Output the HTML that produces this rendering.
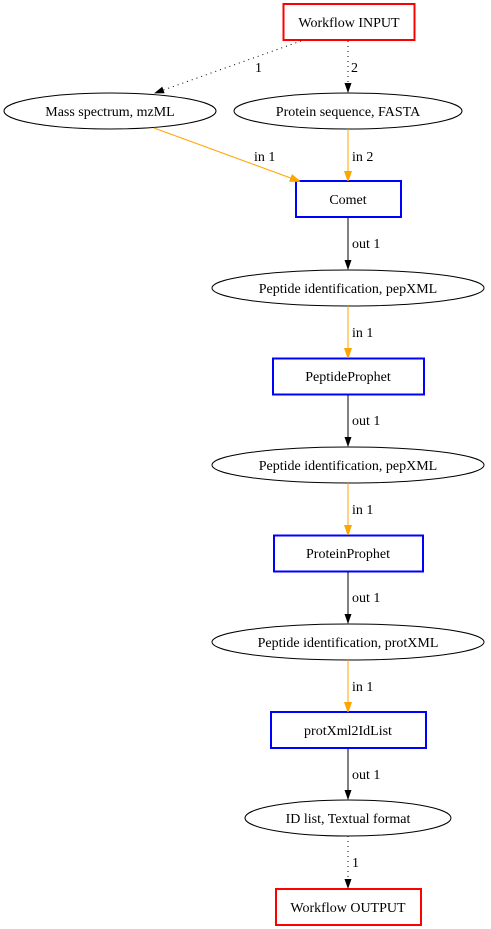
<!DOCTYPE html>
<html><head><style>body{margin:0;background:#fff}svg{display:block}text{font-family:"Liberation Serif",serif;font-size:14px;fill:#000}</style></head>
<body>
<svg width="491" height="929" viewBox="0 0 491 929" xmlns="http://www.w3.org/2000/svg">
<defs>
<marker id="ab" markerWidth="10" markerHeight="10" refX="9" refY="5" orient="auto" markerUnits="userSpaceOnUse"><path d="M0,1.5 L10,5 L0,8.5z" fill="#000"/></marker>
<marker id="ao" markerWidth="10" markerHeight="10" refX="9" refY="5" orient="auto" markerUnits="userSpaceOnUse"><path d="M0,1.5 L10,5 L0,8.5z" fill="orange" stroke="orange"/></marker>
</defs>
<g fill="none">
<rect x="283.5" y="4" width="131" height="36" stroke="red" stroke-width="2"/>
<ellipse cx="110" cy="111" rx="106" ry="18" stroke="#000"/>
<ellipse cx="348" cy="111" rx="114" ry="18" stroke="#000"/>
<rect x="296" y="181" width="105" height="36" stroke="blue" stroke-width="2"/>
<ellipse cx="348" cy="288" rx="136" ry="18" stroke="#000"/>
<rect x="273" y="358.5" width="151" height="36" stroke="blue" stroke-width="2"/>
<ellipse cx="348" cy="465" rx="136" ry="18" stroke="#000"/>
<rect x="274" y="535.5" width="149" height="36" stroke="blue" stroke-width="2"/>
<ellipse cx="348" cy="642" rx="136" ry="18" stroke="#000"/>
<rect x="271" y="712" width="155" height="36" stroke="blue" stroke-width="2"/>
<ellipse cx="348" cy="818" rx="103" ry="18" stroke="#000"/>
<rect x="276" y="889" width="145" height="36" stroke="red" stroke-width="2"/>

<path d="M301,41 L155,93" stroke="#000" stroke-dasharray="1,4" marker-end="url(#ab)"/>
<path d="M348,41 L348,92" stroke="#000" stroke-dasharray="1,4" marker-end="url(#ab)"/>
<path d="M154,128 L299,181" stroke="orange" marker-end="url(#ao)"/>
<path d="M348,129 L348,180" stroke="orange" marker-end="url(#ao)"/>
<path d="M348,218 L348,269" stroke="#000" marker-end="url(#ab)"/>
<path d="M348,306 L348,357" stroke="orange" marker-end="url(#ao)"/>
<path d="M348,395 L348,446" stroke="#000" marker-end="url(#ab)"/>
<path d="M348,483 L348,534" stroke="orange" marker-end="url(#ao)"/>
<path d="M348,572 L348,623" stroke="#000" marker-end="url(#ab)"/>
<path d="M348,660 L348,711" stroke="orange" marker-end="url(#ao)"/>
<path d="M348,749 L348,799" stroke="#000" marker-end="url(#ab)"/>
<path d="M348,836 L348,888" stroke="#000" stroke-dasharray="1,4" marker-end="url(#ab)"/>
</g>
<g text-anchor="middle">
<text x="349" y="27">Workflow INPUT</text>
<text x="110" y="116">Mass spectrum, mzML</text>
<text x="348" y="116">Protein sequence, FASTA</text>
<text x="348" y="204">Comet</text>
<text x="348" y="293">Peptide identification, pepXML</text>
<text x="348" y="381">PeptideProphet</text>
<text x="348" y="470">Peptide identification, pepXML</text>
<text x="348" y="558">ProteinProphet</text>
<text x="348" y="647">Peptide identification, protXML</text>
<text x="348" y="735">protXml2IdList</text>
<text x="348" y="823">ID list, Textual format</text>
<text x="348" y="912">Workflow OUTPUT</text>
</g>
<g>
<text x="255" y="72">1</text>
<text x="351" y="72">2</text>
<text x="254" y="161">in 1</text>
<text x="352" y="161">in 2</text>
<text x="352" y="248">out 1</text>
<text x="352" y="337">in 1</text>
<text x="352" y="425">out 1</text>
<text x="352" y="514">in 1</text>
<text x="352" y="602">out 1</text>
<text x="352" y="691">in 1</text>
<text x="352" y="779">out 1</text>
<text x="352" y="867">1</text>
</g>
</svg>
</body></html>
